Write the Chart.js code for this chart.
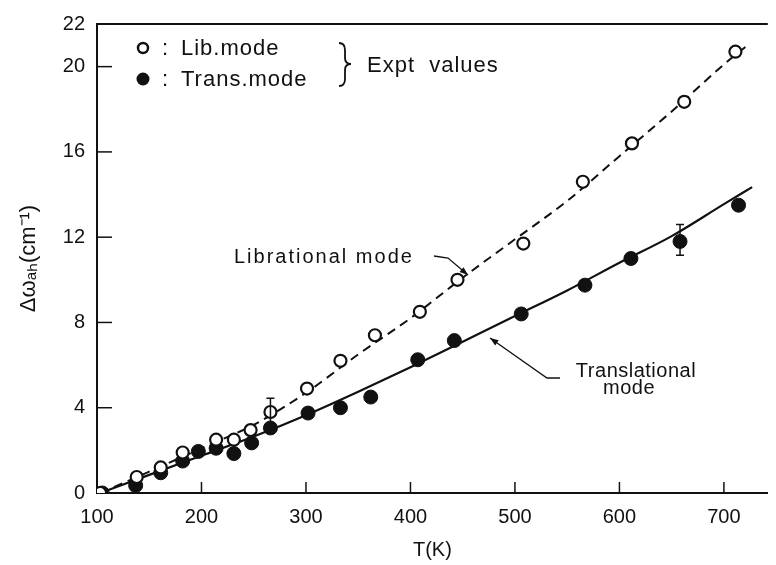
<!DOCTYPE html>
<html>
<head>
<meta charset="utf-8">
<script src="https://cdn.jsdelivr.net/npm/chart.js@4.4.0/dist/chart.umd.min.js"></script>
<style>
  html, body { margin: 0; padding: 0; background: #fff; }
  #wrap { width: 776px; height: 565px; }
</style>
</head>
<body>
<div id="wrap"><canvas id="graphique-modes"></canvas></div>
<script>
const libT = [103, 138, 161, 182, 214, 231, 247, 266, 301, 333, 366, 409, 445, 508, 565, 612, 662, 711]
const libW = [0, 0.75, 1.2, 1.9, 2.5, 2.5, 2.95, 3.8, 4.9, 6.2, 7.4, 8.5, 10.0, 11.7, 14.6, 16.4, 18.35, 20.7]
const transT = [105, 137, 161, 182, 197, 214, 231, 248, 266, 302, 333, 362, 407, 442, 506, 567, 611, 658, 714]
const transW = [0, 0.35, 0.95, 1.5, 1.95, 2.1, 1.85, 2.35, 3.05, 3.75, 4.0, 4.5, 6.25, 7.15, 8.4, 9.75, 11.0, 11.8, 13.5]

// Courbes calculées
const libFitT = [103, 150, 200, 250, 300, 350, 400, 450, 500, 550, 600, 650, 700, 725]
const libFitW = [0, 1.0, 2.1, 3.2, 4.7, 6.5, 8.2, 10.1, 11.9, 13.7, 15.8, 17.9, 20.1, 21.1]
const transFitT = [103, 150, 200, 250, 300, 350, 400, 450, 500, 550, 600, 650, 700, 727]
const transFitW = [0, 0.85, 1.75, 2.65, 3.65, 4.75, 5.9, 7.1, 8.3, 9.5, 10.8, 12.05, 13.55, 14.35]

// Barres d'erreur
const errT = [266, 658]
const errLo = [3.1, 11.15]
const errHi = [4.45, 12.6]

const xTicks = [100, 200, 300, 400, 500, 600, 700]
const yTicks = [0, 4, 8, 12, 16, 20, 22]
const yInnerTicks = [4, 8, 12, 16, 20]

const police = "'Liberation Sans', Arial, sans-serif"

const toPoints = (xs, ys) => xs.map((x, i) => ({ x: x, y: ys[i] }))

function fleche(ctx, pts) {
    ctx.beginPath()
    ctx.moveTo(pts[0][0], pts[0][1])
    for (let i = 1; i < pts.length; i++) ctx.lineTo(pts[i][0], pts[i][1])
    ctx.stroke()
    const [x1, y1] = pts[pts.length - 2]
    const [x2, y2] = pts[pts.length - 1]
    const a = Math.atan2(y2 - y1, x2 - x1)
    ctx.beginPath()
    ctx.moveTo(x2, y2)
    ctx.lineTo(x2 - 9 * Math.cos(a - 0.35), y2 - 9 * Math.sin(a - 0.35))
    ctx.lineTo(x2 - 9 * Math.cos(a + 0.35), y2 - 9 * Math.sin(a + 0.35))
    ctx.closePath()
    ctx.fill()
}

const habillage = {
    id: "habillage",
    afterDatasetsDraw(chart) {
        const ctx = chart.ctx
        const area = chart.chartArea
        const xs = chart.scales.x
        const ys = chart.scales.y
        ctx.save()
        ctx.strokeStyle = "#111"
        ctx.fillStyle = "#111"

        // cadre du haut
        ctx.lineWidth = 2
        ctx.beginPath()
        ctx.moveTo(area.left, area.top)
        ctx.lineTo(area.right, area.top)
        ctx.stroke()

        // graduations intérieures
        ctx.lineWidth = 1.5
        for (const v of yInnerTicks) {
            const py = ys.getPixelForValue(v)
            ctx.beginPath()
            ctx.moveTo(area.left, py)
            ctx.lineTo(area.left + 15, py)
            ctx.stroke()
        }
        for (const v of xTicks.slice(1)) {
            const px = xs.getPixelForValue(v)
            ctx.beginPath()
            ctx.moveTo(px, area.bottom)
            ctx.lineTo(px, area.bottom - 11)
            ctx.stroke()
        }

        // barres d'erreur
        ctx.lineWidth = 1.5
        for (let i = 0; i < errT.length; i++) {
            const px = xs.getPixelForValue(errT[i])
            const lo = ys.getPixelForValue(errLo[i])
            const hi = ys.getPixelForValue(errHi[i])
            ctx.beginPath()
            ctx.moveTo(px, lo); ctx.lineTo(px, hi)
            ctx.moveTo(px - 4, lo); ctx.lineTo(px + 4, lo)
            ctx.moveTo(px - 4, hi); ctx.lineTo(px + 4, hi)
            ctx.stroke()
        }

        // légende
        ctx.lineWidth = 2.5
        ctx.beginPath()
        ctx.arc(143, 48, 5, 0, Math.PI * 2)
        ctx.stroke()
        ctx.beginPath()
        ctx.arc(143, 79, 6.5, 0, Math.PI * 2)
        ctx.fill()
        ctx.font = "22px " + police
        ctx.textBaseline = "alphabetic"
        ctx.textAlign = "left"
        ctx.letterSpacing = "1px"
        ctx.fillText(":", 162, 55)
        ctx.fillText("Lib.mode", 181, 55)
        ctx.fillText(":", 162, 86)
        ctx.fillText("Trans.mode", 181, 86)
        ctx.fillText("Expt  values", 367, 72)

        // accolade
        ctx.lineWidth = 1.8
        ctx.beginPath()
        ctx.moveTo(339, 43)
        ctx.quadraticCurveTo(345, 43, 345, 50)
        ctx.lineTo(345, 58)
        ctx.quadraticCurveTo(345, 64, 351, 64)
        ctx.quadraticCurveTo(345, 64, 345, 70)
        ctx.lineTo(345, 79)
        ctx.quadraticCurveTo(345, 86, 339, 86)
        ctx.stroke()

        // annotations des courbes
        ctx.font = "20px " + police
        ctx.letterSpacing = "2px"
        ctx.fillText("Librational mode", 234, 263)
        ctx.textAlign = "center"
        ctx.letterSpacing = "0.5px"
        ctx.fillText("Translational", 636, 377)
        ctx.fillText("mode", 629, 394)

        ctx.lineWidth = 1.3
        fleche(ctx, [[434, 256], [448, 258], [468, 275]])
        fleche(ctx, [[560, 378], [547, 378], [490, 338]])

        ctx.restore()
    }
}

const data = {
    datasets: [
        {
            label: "Lib. mode",
            data: toPoints(libT, libW),
            showLine: false,
            pointStyle: "circle",
            pointRadius: 6,
            pointBackgroundColor: "#fff",
            pointBorderColor: "#111",
            pointBorderWidth: 2.2,
            order: 0
        },
        {
            label: "Trans. mode",
            data: toPoints(transT, transW),
            showLine: false,
            pointStyle: "circle",
            pointRadius: 7,
            pointBackgroundColor: "#111",
            pointBorderColor: "#111",
            pointBorderWidth: 1,
            order: 1
        },
        {
            label: "Librational mode",
            data: toPoints(libFitT, libFitW),
            showLine: true,
            borderColor: "#111",
            borderWidth: 2,
            borderDash: [9, 6],
            pointRadius: 0,
            cubicInterpolationMode: "monotone",
            order: 2
        },
        {
            label: "Translational mode",
            data: toPoints(transFitT, transFitW),
            showLine: true,
            borderColor: "#111",
            borderWidth: 2.2,
            pointRadius: 0,
            cubicInterpolationMode: "monotone",
            order: 3
        }
    ]
}

const config = {
    type: "scatter",
    data: data,
    plugins: [habillage],
    options: {
        responsive: true,
        maintainAspectRatio: false,
        animation: false,
        events: [],
        layout: { padding: { top: 23, right: 0, left: 0, bottom: 0 } },
        plugins: {
            legend: { display: false },
            tooltip: { enabled: false }
        },
        scales: {
            x: {
                type: "linear",
                min: 100,
                max: 742,
                afterBuildTicks: (scale) => { scale.ticks = xTicks.map(v => ({ value: v })) },
                afterFit: (scale) => { scale.height = 72 },
                grid: { display: false, drawTicks: false },
                border: { display: true, color: "#111", width: 2 },
                ticks: {
                    color: "#111",
                    padding: 12,
                    maxRotation: 0,
                    font: { family: police, size: 20 }
                },
                title: {
                    display: true,
                    text: "T(K)",
                    color: "#111",
                    font: { family: police, size: 20 },
                    padding: { top: 0, bottom: 3 }
                }
            },
            y: {
                type: "linear",
                min: 0,
                max: 22,
                afterBuildTicks: (scale) => { scale.ticks = yTicks.map(v => ({ value: v })) },
                afterFit: (scale) => { scale.width = 97 },
                grid: { display: false, drawTicks: false },
                border: { display: true, color: "#111", width: 2 },
                ticks: {
                    color: "#111",
                    padding: 12,
                    font: { family: police, size: 20 }
                },
                title: {
                    display: true,
                    text: "Δωₐₕ(cm⁻¹)",
                    color: "#111",
                    font: { family: police, size: 22 },
                    padding: { top: 16, bottom: 0 }
                }
            }
        }
    }
}

const graphiqueModes = new Chart(document.querySelector("#graphique-modes"), config)
</script>
</body>
</html>
